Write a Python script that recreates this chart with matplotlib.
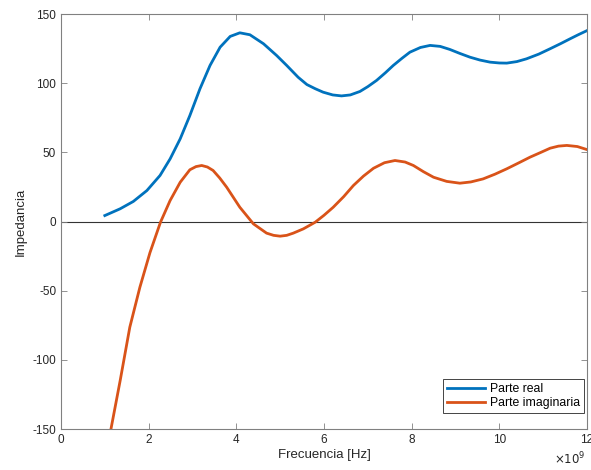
import numpy as np
import matplotlib.pyplot as plt
from matplotlib.ticker import FuncFormatter

plt.rcParams['font.family'] = ['Liberation Sans', 'DejaVu Sans']
plt.rcParams['axes.unicode_minus'] = False

# frequencies in units of 1e9 Hz
f_real = [1.0, 1.35, 1.65, 1.96, 2.26, 2.49, 2.72, 2.94, 3.17, 3.40, 3.63, 3.86,
          4.08, 4.31, 4.62, 4.92, 5.15, 5.41, 5.61, 5.80, 5.98, 6.20, 6.40, 6.60,
          6.82, 7.00, 7.20, 7.40, 7.58, 7.78, 7.96, 8.20, 8.42, 8.65, 8.87, 9.10,
          9.33, 9.56, 9.79, 10.00, 10.17, 10.40, 10.62, 10.90, 11.16, 11.40, 11.61,
          11.80, 12.0]
z_real = [4.3, 9.2, 14.5, 22.4, 33.3, 45.3, 59.8, 76.6, 95.9, 112.8, 126, 133.8,
          136.4, 135, 128.5, 120, 112.8, 104.3, 99, 96, 93.5, 91.5, 90.8, 91.5,
          94, 97.5, 102, 107.5, 112.8, 118, 122.4, 125.8, 127.3, 126.6, 124.4, 121.5,
          118.8, 116.7, 115.2, 114.6, 114.5, 115.6, 117.6, 121, 124.9, 128.6, 132,
          135, 138]

f_imag = [1.0, 1.14, 1.35, 1.57, 1.80, 2.03, 2.27, 2.49, 2.72, 2.94, 3.08, 3.21,
          3.34, 3.47, 3.62, 3.78, 4.08, 4.39, 4.69, 4.85, 5.0, 5.15, 5.30, 5.53,
          5.80, 6.00, 6.21, 6.45, 6.67, 6.90, 7.13, 7.38, 7.62, 7.85, 8.04, 8.27,
          8.50, 8.80, 9.10, 9.35, 9.63, 9.90, 10.17, 10.45, 10.70, 10.95, 11.16,
          11.35, 11.54, 11.78, 12.0]
z_imag = [-172, -150, -115, -76.4, -47.5, -22.5, -0.5, 15.2, 28.4, 37.4, 39.7, 40.5,
          39.4, 36.9, 31.5, 24.8, 10.3, -1.7, -8.4, -10.0, -10.6, -10.0, -8.4, -5.3,
          -0.5, 4.5, 10.3, 18, 26, 32.8, 38.5, 42.5, 44.1, 43, 40.5, 36,
          32, 29, 27.7, 28.6, 30.8, 34.2, 38.1, 42.5, 46.5, 50, 53,
          54.5, 55, 54.2, 52]

fig = plt.figure(figsize=(5.91, 4.70), dpi=100)
ax = fig.add_axes([0.1032, 0.0872, 0.8900, 0.8830])

blue = '#0072BD'
orange = '#D95319'
ax.plot(np.array(f_real) * 1e9, z_real, color=blue, lw=2.0, label='Parte real',
        solid_joinstyle='round')
ax.plot(np.array(f_imag) * 1e9, z_imag, color=orange, lw=2.0, label='Parte imaginaria',
        solid_joinstyle='round')
ax.axhline(0, color='#333333', lw=0.8, zorder=1)

ax.set_xlim(0, 12e9)
ax.set_ylim(-150, 150)
ax.set_xticks(np.arange(0, 13, 2) * 1e9)
ax.set_yticks(np.arange(-150, 151, 50))
ax.xaxis.set_major_formatter(FuncFormatter(lambda v, p: '%d' % round(v / 1e9)))

axcol = '#262626'
for s in ax.spines.values():
    s.set_color('#808080')
    s.set_linewidth(0.8)
ax.tick_params(direction='in', length=4, width=0.6, color='#808080',
               labelsize=8.5, labelcolor=axcol, top=True, right=True)
ax.text(0.998, -0.052, r'$\times10^9$', transform=ax.transAxes, ha='right', va='top',
        fontsize=8.5, color=axcol)

ax.set_xlabel('Frecuencia [Hz]', fontsize=9.5, color=axcol, labelpad=2)
ax.set_ylabel('Impedancia', fontsize=9.5, color=axcol, labelpad=4)

leg = ax.legend(loc='lower right', bbox_to_anchor=(0.995, 0.038), fontsize=8.8,
                frameon=True, fancybox=False, edgecolor=axcol, framealpha=1,
                borderaxespad=0, handlelength=3.1, handletextpad=0.4,
                borderpad=0.35, labelspacing=0.15)
leg.get_frame().set_linewidth(0.6)

fig.savefig('out.png', dpi=100)
